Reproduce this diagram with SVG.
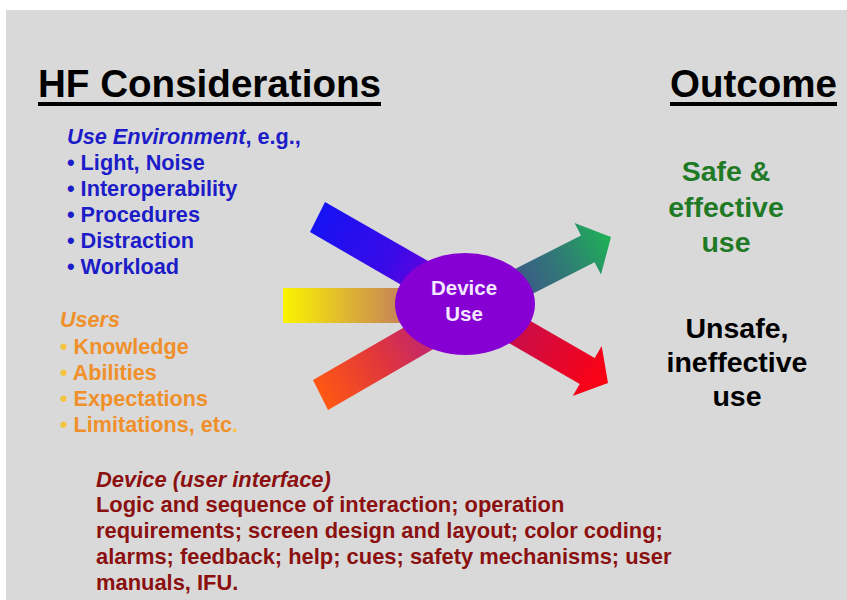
<svg xmlns="http://www.w3.org/2000/svg" width="847" height="600" viewBox="0 0 847 600">
<defs>
<style>
text{font-family:"Liberation Sans",Arial,sans-serif;font-weight:bold}
.h{font-size:38px;fill:#000}
.env{font-size:21.7px;fill:#1c1cc8}
.usr{font-size:21.6px;fill:#f0902a}
.dev{font-size:21.9px;fill:#8b1010}
.out{font-size:28.5px;text-anchor:middle}
.it{font-style:italic}
.blt{fill:#f5c542}
</style>
<linearGradient id="gBlue" gradientUnits="userSpaceOnUse" x1="318" y1="217" x2="450" y2="293">
<stop offset="0" stop-color="#1612f2"/><stop offset="0.55" stop-color="#3a0ae8"/><stop offset="1" stop-color="#7a00d6"/>
</linearGradient>
<linearGradient id="gYellow" gradientUnits="userSpaceOnUse" x1="283" y1="0" x2="405" y2="0">
<stop offset="0" stop-color="#fbf400"/><stop offset="0.5" stop-color="#e0b830"/><stop offset="1" stop-color="#c4805a"/>
</linearGradient>
<linearGradient id="gOrange" gradientUnits="userSpaceOnUse" x1="320" y1="395" x2="450" y2="320">
<stop offset="0" stop-color="#ff5812"/><stop offset="0.5" stop-color="#de3440"/><stop offset="1" stop-color="#b0208a"/>
</linearGradient>
<linearGradient id="gGreen" gradientUnits="userSpaceOnUse" x1="520" y1="284" x2="611" y2="237">
<stop offset="0" stop-color="#3c5a88"/><stop offset="0.5" stop-color="#2f7e74"/><stop offset="1" stop-color="#1fb256"/>
</linearGradient>
<linearGradient id="gRed" gradientUnits="userSpaceOnUse" x1="515" y1="330" x2="608" y2="383">
<stop offset="0" stop-color="#c80e4a"/><stop offset="1" stop-color="#ff0010"/>
</linearGradient>
</defs>
<rect x="0" y="0" width="847" height="600" fill="#ffffff"/>
<rect x="6" y="10" width="841" height="590" fill="#d9d9d9"/>

<g id="headings">
<text class="h" x="38" y="97" textLength="343" lengthAdjust="spacingAndGlyphs">HF Considerations</text>
<rect x="38" y="102" width="343" height="4" fill="#000"/>
<text class="h" x="670" y="97" textLength="167" lengthAdjust="spacingAndGlyphs">Outcome</text>
<rect x="670" y="102" width="167" height="4" fill="#000"/>
</g>

<g id="connectors">
<polygon points="325,202 470,285 455,316 310,232" fill="url(#gBlue)"/>
<rect x="283" y="288" width="150" height="35" fill="url(#gYellow)"/>
<polygon points="313,380 460,295 475,325 328,410" fill="url(#gOrange)"/>
<polygon points="465.2,294.4 581,235.4 574.6,223 611,237 601,274.6 594.6,262.2 478.8,321.2" fill="url(#gGreen)"/>
<polygon points="477.8,290.5 594.7,358 601.7,345.9 608,383 572.7,396.1 579.7,384 462.8,316.5" fill="url(#gRed)"/>
</g>

<g id="device-use">
<ellipse cx="465" cy="304" rx="70" ry="51" fill="#8600d4"/>
<text x="464" y="295" font-size="20.5" fill="#f4e8ff" text-anchor="middle">Device</text>
<text x="464" y="321" font-size="20.5" fill="#f4e8ff" text-anchor="middle">Use</text>
</g>

<g id="use-environment">
<text class="env" x="67" y="144"><tspan class="it">Use Environment</tspan>, e.g.,</text>
<text class="env" x="67" y="170">• Light, Noise</text>
<text class="env" x="67" y="196">• Interoperability</text>
<text class="env" x="67" y="222">• Procedures</text>
<text class="env" x="67" y="248">• Distraction</text>
<text class="env" x="67" y="274">• Workload</text>
</g>

<g id="users">
<text class="usr it" x="60" y="327">Users</text>
<text class="usr" x="60" y="354"><tspan class="blt">•</tspan> Knowledge</text>
<text class="usr" x="60" y="380"><tspan class="blt">•</tspan> Abilities</text>
<text class="usr" x="60" y="406"><tspan class="blt">•</tspan> Expectations</text>
<text class="usr" x="60" y="432"><tspan class="blt">•</tspan> Limitations, etc<tspan class="blt">.</tspan></text>
</g>

<g id="device-ui">
<text class="dev it" x="96" y="487">Device (user interface)</text>
<text class="dev" x="96" y="512">Logic and sequence of interaction; operation</text>
<text class="dev" x="96" y="538">requirements; screen design and layout; color coding;</text>
<text class="dev" x="96" y="564">alarms; feedback; help; cues; safety mechanisms; user</text>
<text class="dev" x="96" y="590">manuals, IFU.</text>
</g>

<g id="safe-outcome">
<text class="out" x="726" y="181" fill="#1f7a25">Safe &amp;</text>
<text class="out" x="726" y="217" fill="#1f7a25">effective</text>
<text class="out" x="726" y="252" fill="#1f7a25">use</text>
</g>

<g id="unsafe-outcome">
<text class="out" x="737" y="338" fill="#000">Unsafe,</text>
<text class="out" x="737" y="372" fill="#000">ineffective</text>
<text class="out" x="737" y="406" fill="#000">use</text>
</g>
</svg>
